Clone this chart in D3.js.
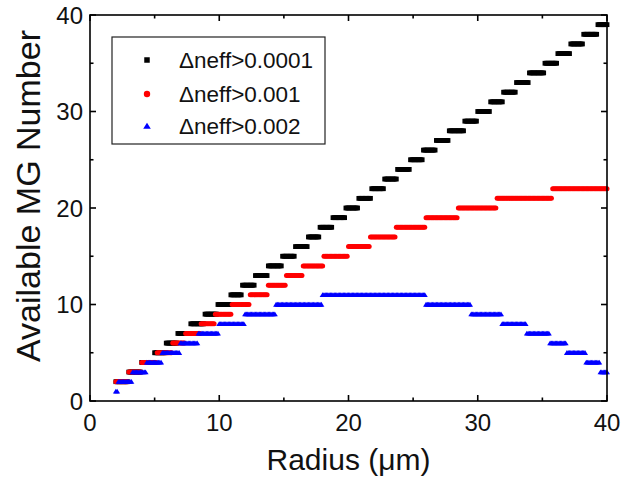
<!DOCTYPE html>
<html>
<head>
<meta charset="utf-8">
<script src="https://cdn.jsdelivr.net/npm/d3@7"></script>
<style>
  html, body { margin: 0; padding: 0; background: #fff; }
  svg { display: block; font-family: "Liberation Sans", Arial, sans-serif; }
</style>
</head>
<body>
<svg id="chart" width="639" height="479"></svg>
<script>
// ---- data (plateau start radius -> mode-group count) ----
const xTicks = [0, 10, 20, 30, 40];
const yTicks = [0, 10, 20, 30, 40];
const seriesNames = ["\u0394neff>0.0001", "\u0394neff>0.001", "\u0394neff>0.002"];

const blackLevels = [2,3,4,5,6,7,8,9,10,11,12,13,14,15,16,17,18,19,20,21,22,23,24,25,26,27,28,29,30,31,32,33,34,35,36,37,38,39];
const blackStarts = [2.0,3.0,4.0,4.95,5.9,6.8,7.75,8.85,9.85,10.85,11.8,12.8,13.8,14.85,15.85,16.85,17.8,18.8,19.8,20.8,21.8,22.75,23.8,24.8,25.8,26.8,27.8,28.95,29.95,30.95,31.95,32.95,34.0,35.15,36.15,37.15,38.15,39.3];

const redLevels = [2,3,4,5,6,7,8,9,10,11,12,13,14,15,16,17,18,19,20,21,22];
const redStarts = [2.0,3.0,4.0,5.2,6.35,7.4,8.55,9.7,10.95,12.4,13.75,15.15,16.5,18.1,20.0,21.65,23.7,25.95,28.5,31.5,35.8];

const blueLevels = [1,2,3,4,5,6,7,8,9,10,11,10,9,8,7,6,5,4,3];
const blueStarts = [2.0,2.15,3.3,4.4,5.6,7.0,8.4,10.0,12.0,14.4,18.0,26.0,29.5,31.9,33.8,35.6,36.9,38.4,39.5];

// radius sampling grid of the simulation (µm)
const radii = d3.range(20, 401).map(i => i / 10);

function sample(starts, levels) {
  return radii.map(r => {
    let v = null;
    for (let i = 0; i < starts.length; i++) if (starts[i] <= r + 1e-9) v = levels[i];
    return {r, v};
  }).filter(d => d.v !== null);
}

const blackData = sample(blackStarts, blackLevels);
const redData = sample(redStarts, redLevels);
const blueData = sample(blueStarts, blueLevels);

// ---- layout ----
const svg = d3.select("#chart");
const L = 90, R = 607, T = 15, B = 401;
const x = d3.scaleLinear().domain([0, 40]).range([L, R]);
const y = d3.scaleLinear().domain([0, 40]).range([B, T]);

const sq = 4.8, circR = 2.5, triW = 3.0, triH = 4.8;
const squarePath = s => `M${-s/2},${-s/2}h${s}v${s}h${-s}Z`;
const trianglePath = (w, h) => `M0,${-h*0.55}L${w},${h*0.45}L${-w},${h*0.45}Z`;

const plot = svg.append("g");
plot.selectAll("path.blk").data(blackData).join("path")
  .attr("class", "blk")
  .attr("transform", d => `translate(${x(d.r)},${y(d.v)})`)
  .attr("d", squarePath(sq)).attr("fill", "#000");
plot.selectAll("circle.red").data(redData).join("circle")
  .attr("class", "red")
  .attr("cx", d => x(d.r)).attr("cy", d => y(d.v)).attr("r", circR).attr("fill", "#ff0000");
plot.selectAll("path.blu").data(blueData).join("path")
  .attr("class", "blu")
  .attr("transform", d => `translate(${x(d.r)},${y(d.v)})`)
  .attr("d", trianglePath(triW, triH)).attr("fill", "#0000ff");

// ---- axes ----
const axisW = 1.6;
const gA = svg.append("g").attr("stroke", "#000").attr("stroke-width", axisW).attr("fill", "none");
gA.append("rect").attr("x", L).attr("y", T).attr("width", R - L).attr("height", B - T);

const minorX = d3.range(0, 41, 5), minorY = d3.range(0, 41, 5);
const major = 6, minor = 3.5;
minorX.forEach(v => {
  const len = v % 10 === 0 ? major : minor;
  gA.append("line").attr("x1", x(v)).attr("x2", x(v)).attr("y1", B).attr("y2", B - len);
  gA.append("line").attr("x1", x(v)).attr("x2", x(v)).attr("y1", T).attr("y2", T + len);
});
minorY.forEach(v => {
  const len = v % 10 === 0 ? major : minor;
  gA.append("line").attr("y1", y(v)).attr("y2", y(v)).attr("x1", L).attr("x2", L + len);
  gA.append("line").attr("y1", y(v)).attr("y2", y(v)).attr("x1", R).attr("x2", R - len);
});

// tick labels
svg.append("g").selectAll("text").data(xTicks).join("text")
  .attr("x", d => x(d)).attr("y", 431)
  .attr("text-anchor", "middle").attr("font-size", 24).attr("fill", "#111")
  .text(d => d);
svg.append("g").selectAll("text").data(yTicks).join("text")
  .attr("x", 83).attr("y", d => y(d) + 8.5)
  .attr("text-anchor", "end").attr("font-size", 24).attr("fill", "#111")
  .text(d => d);

// axis titles
svg.append("text").attr("x", x(20)).attr("y", 470)
  .attr("text-anchor", "middle").attr("font-size", 30).attr("fill", "#111")
  .text("Radius (\u03bcm)");
svg.append("text").attr("transform", "translate(40,196) rotate(-90)")
  .attr("text-anchor", "middle").attr("font-size", 34).attr("fill", "#111")
  .text("Available MG Number");

// ---- legend ----
const lg = svg.append("g");
lg.append("rect").attr("x", 112).attr("y", 37).attr("width", 213).attr("height", 107)
  .attr("fill", "#fff").attr("stroke", "#222").attr("stroke-width", 1.2);
const legendY = [60, 94, 126];
lg.append("path").attr("transform", `translate(147,${legendY[0]})`).attr("d", squarePath(5.5)).attr("fill", "#000");
lg.append("circle").attr("cx", 147).attr("cy", legendY[1]).attr("r", 3.2).attr("fill", "#ff0000");
lg.append("path").attr("transform", `translate(147,${legendY[2]})`).attr("d", trianglePath(3.8, 6)).attr("fill", "#0000ff");
lg.selectAll("text").data(seriesNames).join("text")
  .attr("x", 179).attr("y", (d, i) => legendY[i] + 8)
  .attr("font-size", 22.5).attr("fill", "#111")
  .text(d => d);
</script>
</body>
</html>
